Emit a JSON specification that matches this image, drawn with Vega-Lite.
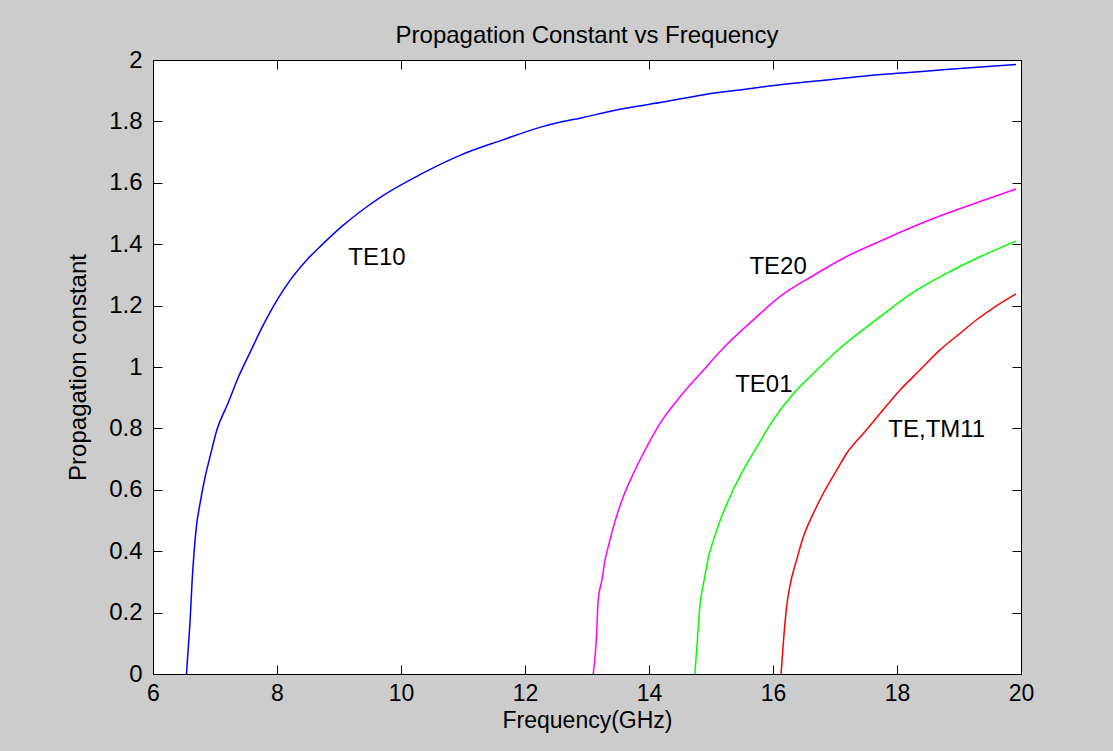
{
  "$schema": "https://vega.github.io/schema/vega-lite/v6.json",
  "width": 868,
  "height": 614,
  "autosize": {"type": "none"},
  "padding": {"left": 153, "top": 60, "right": 92, "bottom": 77},
  "background": "#cccccc",
  "config": {
    "view": {"fill": "white", "stroke": "black", "strokeWidth": 1},
    "font": "Liberation Sans"
  },
  "title": {
    "text": "Propagation Constant vs Frequency",
    "font": "Liberation Sans",
    "fontSize": 24,
    "fontWeight": "normal",
    "color": "#000000",
    "baseline": "alphabetic",
    "anchor": "middle",
    "frame": "group",
    "offset": -19
  },
  "datasets": {
    "curves": [
      {"mode": "TE10", "f": 6.54, "b": 0},
      {"mode": "TE10", "f": 6.56, "b": 0.06},
      {"mode": "TE10", "f": 6.60, "b": 0.18},
      {"mode": "TE10", "f": 6.63, "b": 0.30},
      {"mode": "TE10", "f": 6.66, "b": 0.39},
      {"mode": "TE10", "f": 6.70, "b": 0.48},
      {"mode": "TE10", "f": 6.76, "b": 0.557},
      {"mode": "TE10", "f": 6.83, "b": 0.632},
      {"mode": "TE10", "f": 6.92, "b": 0.708},
      {"mode": "TE10", "f": 7.03, "b": 0.795},
      {"mode": "TE10", "f": 7.21, "b": 0.882},
      {"mode": "TE10", "f": 7.38, "b": 0.968},
      {"mode": "TE10", "f": 7.56, "b": 1.045},
      {"mode": "TE10", "f": 7.78, "b": 1.137},
      {"mode": "TE10", "f": 8.02, "b": 1.224},
      {"mode": "TE10", "f": 8.21, "b": 1.282},
      {"mode": "TE10", "f": 8.51, "b": 1.355},
      {"mode": "TE10", "f": 8.72, "b": 1.397},
      {"mode": "TE10", "f": 9.07, "b": 1.462},
      {"mode": "TE10", "f": 9.45, "b": 1.522},
      {"mode": "TE10", "f": 9.66, "b": 1.552},
      {"mode": "TE10", "f": 10.32, "b": 1.628},
      {"mode": "TE10", "f": 10.97, "b": 1.691},
      {"mode": "TE10", "f": 11.63, "b": 1.739},
      {"mode": "TE10", "f": 12.28, "b": 1.783},
      {"mode": "TE10", "f": 12.94, "b": 1.813},
      {"mode": "TE10", "f": 13.60, "b": 1.842},
      {"mode": "TE10", "f": 14.25, "b": 1.864},
      {"mode": "TE10", "f": 14.91, "b": 1.888},
      {"mode": "TE10", "f": 15.56, "b": 1.905},
      {"mode": "TE10", "f": 16.22, "b": 1.922},
      {"mode": "TE10", "f": 16.87, "b": 1.935},
      {"mode": "TE10", "f": 17.53, "b": 1.949},
      {"mode": "TE10", "f": 18.19, "b": 1.959},
      {"mode": "TE10", "f": 18.84, "b": 1.970},
      {"mode": "TE10", "f": 19.92, "b": 1.985},
      {"mode": "TE20", "f": 13.10, "b": 0},
      {"mode": "TE20", "f": 13.15, "b": 0.11},
      {"mode": "TE20", "f": 13.18, "b": 0.24},
      {"mode": "TE20", "f": 13.24, "b": 0.306},
      {"mode": "TE20", "f": 13.29, "b": 0.371},
      {"mode": "TE20", "f": 13.35, "b": 0.42},
      {"mode": "TE20", "f": 13.42, "b": 0.475},
      {"mode": "TE20", "f": 13.59, "b": 0.58},
      {"mode": "TE20", "f": 13.75, "b": 0.654},
      {"mode": "TE20", "f": 13.91, "b": 0.719},
      {"mode": "TE20", "f": 14.18, "b": 0.817},
      {"mode": "TE20", "f": 14.50, "b": 0.903},
      {"mode": "TE20", "f": 14.88, "b": 0.990},
      {"mode": "TE20", "f": 15.20, "b": 1.062},
      {"mode": "TE20", "f": 15.74, "b": 1.164},
      {"mode": "TE20", "f": 16.11, "b": 1.229},
      {"mode": "TE20", "f": 16.65, "b": 1.298},
      {"mode": "TE20", "f": 17.19, "b": 1.36},
      {"mode": "TE20", "f": 17.73, "b": 1.41},
      {"mode": "TE20", "f": 18.26, "b": 1.457},
      {"mode": "TE20", "f": 18.80, "b": 1.500},
      {"mode": "TE20", "f": 19.34, "b": 1.539},
      {"mode": "TE20", "f": 19.92, "b": 1.580},
      {"mode": "TE01", "f": 14.74, "b": 0},
      {"mode": "TE01", "f": 14.78, "b": 0.11},
      {"mode": "TE01", "f": 14.82, "b": 0.22},
      {"mode": "TE01", "f": 14.89, "b": 0.306},
      {"mode": "TE01", "f": 14.96, "b": 0.382},
      {"mode": "TE01", "f": 15.04, "b": 0.436},
      {"mode": "TE01", "f": 15.17, "b": 0.512},
      {"mode": "TE01", "f": 15.33, "b": 0.588},
      {"mode": "TE01", "f": 15.52, "b": 0.664},
      {"mode": "TE01", "f": 15.74, "b": 0.740},
      {"mode": "TE01", "f": 16.00, "b": 0.827},
      {"mode": "TE01", "f": 16.33, "b": 0.914},
      {"mode": "TE01", "f": 16.65, "b": 0.979},
      {"mode": "TE01", "f": 17.08, "b": 1.061},
      {"mode": "TE01", "f": 17.73, "b": 1.164},
      {"mode": "TE01", "f": 18.26, "b": 1.243},
      {"mode": "TE01", "f": 18.80, "b": 1.305},
      {"mode": "TE01", "f": 19.34, "b": 1.359},
      {"mode": "TE01", "f": 19.92, "b": 1.410},
      {"mode": "TE,TM11", "f": 16.13, "b": 0},
      {"mode": "TE,TM11", "f": 16.17, "b": 0.11},
      {"mode": "TE,TM11", "f": 16.22, "b": 0.22},
      {"mode": "TE,TM11", "f": 16.27, "b": 0.284},
      {"mode": "TE,TM11", "f": 16.38, "b": 0.371},
      {"mode": "TE,TM11", "f": 16.49, "b": 0.447},
      {"mode": "TE,TM11", "f": 16.65, "b": 0.523},
      {"mode": "TE,TM11", "f": 16.81, "b": 0.588},
      {"mode": "TE,TM11", "f": 17.03, "b": 0.665},
      {"mode": "TE,TM11", "f": 17.19, "b": 0.719},
      {"mode": "TE,TM11", "f": 17.46, "b": 0.784},
      {"mode": "TE,TM11", "f": 17.73, "b": 0.849},
      {"mode": "TE,TM11", "f": 18.05, "b": 0.925},
      {"mode": "TE,TM11", "f": 18.37, "b": 0.990},
      {"mode": "TE,TM11", "f": 18.69, "b": 1.055},
      {"mode": "TE,TM11", "f": 19.02, "b": 1.110},
      {"mode": "TE,TM11", "f": 19.28, "b": 1.153},
      {"mode": "TE,TM11", "f": 19.55, "b": 1.192},
      {"mode": "TE,TM11", "f": 19.92, "b": 1.238}
    ],
    "labels": [
      {"label": "TE10", "f": 9.15, "b": 1.355},
      {"label": "TE20", "f": 15.62, "b": 1.327},
      {"label": "TE01", "f": 15.39, "b": 0.941},
      {"label": "TE,TM11", "f": 17.86, "b": 0.795}
    ]
  },
  "layer": [
    {
      "data": {"name": "curves"},
      "mark": {"type": "line", "strokeWidth": 1.5, "interpolate": "monotone"},
      "encoding": {
        "x": {
          "field": "f", "type": "quantitative",
          "scale": {"domain": [6, 20], "nice": false, "zero": false},
          "axis": {
            "orient": "bottom",
            "values": [6, 8, 10, 12, 14, 16, 18, 20],
            "format": "~g",
            "grid": false,
            "domain": true, "domainColor": "#000000", "domainWidth": 1,
            "ticks": true, "tickSize": -9, "tickColor": "#000000", "tickWidth": 1,
            "labelFont": "Liberation Sans", "labelFontSize": 23, "labelColor": "#000000",
            "labelFlush": false, "labelOverlap": false,
            "labelBaseline": "alphabetic", "labelPadding": 35,
            "title": "Frequency(GHz)",
            "titleFont": "Liberation Sans", "titleFontSize": 23, "titleFontWeight": "normal", "titleColor": "#000000",
            "titleX": 434, "titleY": 53, "titleAlign": "center", "titleBaseline": "alphabetic"
          }
        },
        "y": {
          "field": "b", "type": "quantitative",
          "scale": {"domain": [0, 2], "nice": false},
          "axis": {
            "orient": "left",
            "values": [0, 0.2, 0.4, 0.6, 0.8, 1, 1.2, 1.4, 1.6, 1.8, 2],
            "format": "~g",
            "grid": false,
            "domain": true, "domainColor": "#000000", "domainWidth": 1,
            "ticks": true, "tickSize": -9, "tickColor": "#000000", "tickWidth": 1,
            "labelFont": "Liberation Sans", "labelFontSize": 24, "labelColor": "#000000",
            "labelFlush": false, "labelOverlap": false,
            "labelPadding": 20,
            "title": "Propagation constant",
            "titleFont": "Liberation Sans", "titleFontSize": 24, "titleFontWeight": "normal", "titleColor": "#000000",
            "titleX": -68, "titleY": 307, "titleAngle": 270, "titleAlign": "center", "titleBaseline": "alphabetic"
          }
        },
        "color": {
          "field": "mode", "type": "nominal",
          "scale": {"domain": ["TE10", "TE20", "TE01", "TE,TM11"], "range": ["#0000ff", "#ff00ff", "#00ff00", "#ff0000"]},
          "legend": null
        }
      }
    },
    {
      "data": {"name": "curves"},
      "mark": {"type": "point", "opacity": 0},
      "encoding": {
        "x": {
          "field": "f", "type": "quantitative",
          "axis": {
            "orient": "top",
            "values": [6, 8, 10, 12, 14, 16, 18, 20],
            "grid": false, "labels": false, "title": null,
            "domain": true, "domainColor": "#000000", "domainWidth": 1,
            "ticks": true, "tickSize": -9, "tickColor": "#000000", "tickWidth": 1
          }
        },
        "y": {
          "field": "b", "type": "quantitative",
          "axis": {
            "orient": "right",
            "values": [0, 0.2, 0.4, 0.6, 0.8, 1, 1.2, 1.4, 1.6, 1.8, 2],
            "grid": false, "labels": false, "title": null,
            "domain": true, "domainColor": "#000000", "domainWidth": 1,
            "ticks": true, "tickSize": -9, "tickColor": "#000000", "tickWidth": 1
          }
        }
      }
    },
    {
      "data": {"name": "labels"},
      "mark": {"type": "text", "align": "left", "baseline": "middle", "font": "Liberation Sans", "fontSize": 24, "color": "#000000"},
      "encoding": {
        "x": {"field": "f", "type": "quantitative", "axis": null},
        "y": {"field": "b", "type": "quantitative", "axis": null},
        "text": {"field": "label"}
      }
    }
  ],
  "resolve": {"axis": {"x": "independent", "y": "independent"}}
}
